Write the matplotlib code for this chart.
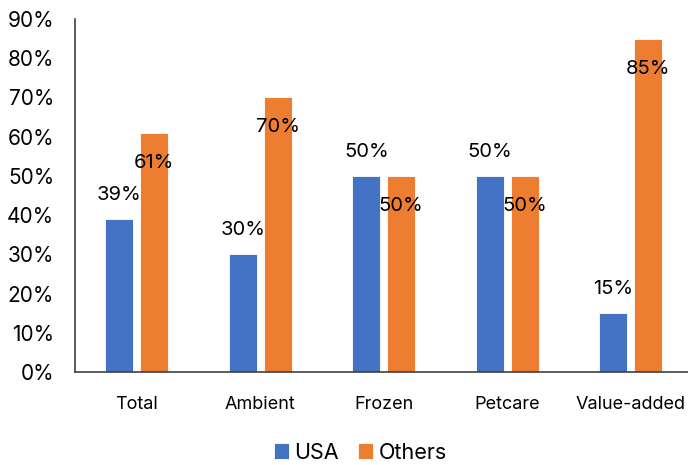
import matplotlib
matplotlib.use('Agg')
import matplotlib.pyplot as plt
import numpy as np

categories = ['Total', 'Ambient', 'Frozen', 'Petcare', 'Value-added']
usa = [39, 30, 50, 50, 15]
others = [61, 70, 50, 50, 85]

plt.rcParams['font.family'] = ['Inter', 'DejaVu Sans']

fig = plt.figure(figsize=(6.88, 4.65), dpi=100)
ax = fig.add_axes([75 / 688, 93 / 465, 617.5 / 688, 353 / 465])

x = np.arange(len(categories))
w = 0.2265
off = 0.1416
b1 = ax.bar(x - off, usa, w, color='#4472C4', edgecolor='white', linewidth=0.6, label='USA')
b2 = ax.bar(x + off, others, w, color='#ED7D31', edgecolor='white', linewidth=0.6, label='Others')

for rect, v in zip(b1, usa):
    ax.annotate(f'{v}%', (rect.get_x() + rect.get_width() / 2, v), xytext=(0, 24),
                textcoords='offset pixels', ha='center', va='center', fontsize=14.5)
for rect, v in zip(b2, others):
    ax.annotate(f'{v}%', (rect.get_x() + rect.get_width() / 2, v), xytext=(0, -30),
                textcoords='offset pixels', ha='center', va='center', fontsize=14.5)

ax.set_xlim(-0.5, len(categories) - 0.5)
ax.set_ylim(0, 90)
ax.set_yticks(range(0, 91, 10))
ax.set_yticklabels([f'{t}%' for t in range(0, 91, 10)], fontsize=15)
ax.set_xticks(x)
ax.set_xticklabels(categories, fontsize=13)
ax.tick_params(axis='both', length=0)
ax.tick_params(axis='y', pad=15)
ax.tick_params(axis='x', pad=17)

for s in ['top', 'right']:
    ax.spines[s].set_visible(False)
for s in ['left', 'bottom']:
    ax.spines[s].set_color('#404040')
    ax.spines[s].set_linewidth(1.2)

fig.legend(loc='center', bbox_to_anchor=(360.5 / 688, 12.5 / 465), ncol=2, frameon=False,
           fontsize=15.5, handlelength=0.7, handleheight=0.7, handletextpad=0.25,
           columnspacing=0.9)

fig.savefig('out.png', dpi=100)
